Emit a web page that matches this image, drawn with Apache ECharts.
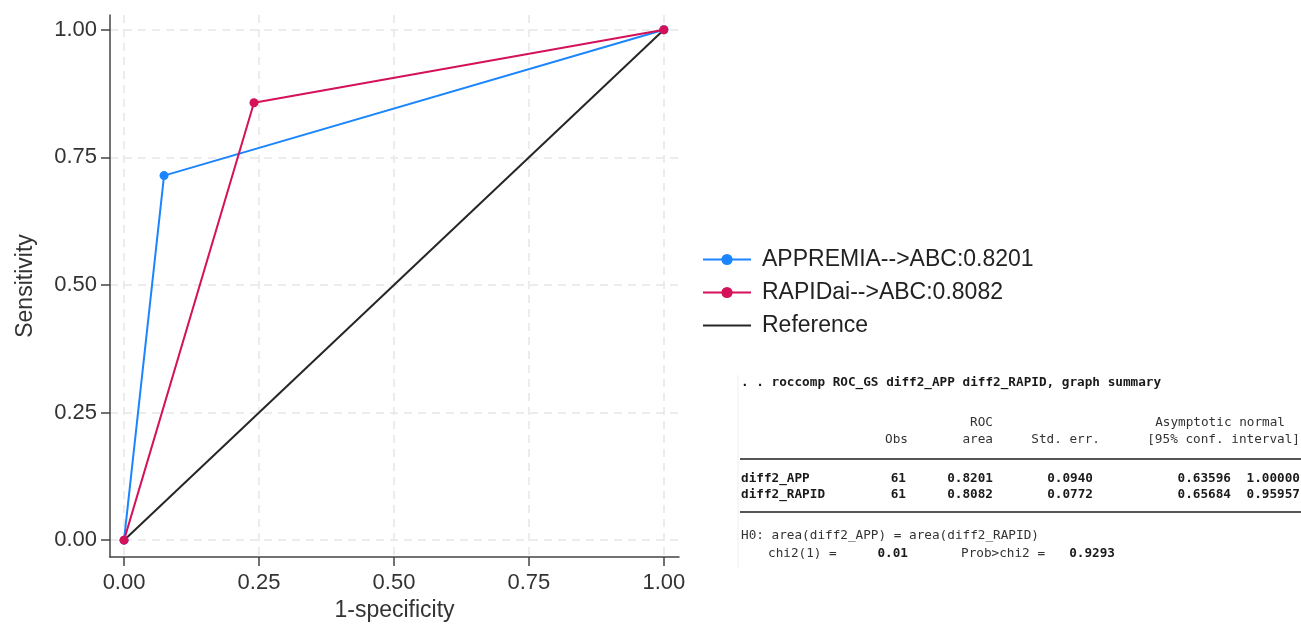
<!DOCTYPE html>
<html>
<head>
<meta charset="utf-8">
<script src="https://cdn.jsdelivr.net/npm/echarts@6/dist/echarts.min.js"></script>
<style>
html,body{margin:0;padding:0;background:#fff;}
#chart{width:1301px;height:627px;}
</style>
</head>
<body>
<div id="chart"></div>
<script>
// ---- data ----
const appX = [0, 0.0741, 1];
const appY = [0, 0.7143, 1];
const rapX = [0, 0.2407, 1];
const rapY = [0, 0.8571, 1];
const refX = [0, 1];
const refY = [0, 1];
const tickValues = [0, 0.25, 0.5, 0.75, 1];
const seriesNames = ['APPREMIA-->ABC:0.8201', 'RAPIDai-->ABC:0.8082', 'Reference'];
const xName = '1-specificity';
const yName = 'Sensitivity';

// ---- summary table text ----
const tableTitle = '. . roccomp ROC_GS diff2_APP diff2_RAPID, graph summary';
const tableHead1 = ['ROC', 'Asymptotic normal'];
const tableHead2 = ['Obs', 'area', 'Std. err.', '[95% conf. interval]'];
const tableRowNames = ['diff2_APP', 'diff2_RAPID'];
const tableRowValues = [
  ['61', '0.8201', '0.0940', '0.63596', '1.00000'],
  ['61', '0.8082', '0.0772', '0.65684', '0.95957']
];
const testLine1 = 'H0: area(diff2_APP) = area(diff2_RAPID)';
const testLabels = ['chi2(1) =', 'Prob>chi2 ='];
const testValues = ['0.01', '0.9293'];

const pair = (xs, ys) => xs.map((x, i) => [x, ys[i]]);

const mono = '"DejaVu Sans Mono", "Liberation Mono", monospace';
const txt = (text, x, y, align, bold) => ({
  type: 'text', silent: true,
  style: {
    text: text, x: x, y: y, align: align || 'left', verticalAlign: 'middle',
    font: (bold ? 'bold ' : '') + '12.7px ' + mono, fill: bold ? '#1a1a1a' : '#333'
  }
});

const graphics = [];
graphics.push({type: 'line', silent: true, shape: {x1: 738, y1: 375, x2: 738, y2: 568}, style: {stroke: '#eeeeee', lineWidth: 1}});
graphics.push(txt(tableTitle, 741, 383, 'left', true));
graphics.push(txt(tableHead1[0], 993, 423, 'right'));
graphics.push(txt(tableHead1[1], 1285, 423, 'right'));
const head2Right = [908, 993, 1100, 1300];
tableHead2.forEach((t, i) => graphics.push(txt(t, head2Right[i], 440, 'right')));
graphics.push({type: 'line', silent: true, shape: {x1: 740, y1: 459, x2: 1301, y2: 459}, style: {stroke: '#555', lineWidth: 2}});
const valRight = [906, 993, 1093, 1231, 1300];
const rowY = [479, 495];
tableRowNames.forEach((n, r) => {
  graphics.push(txt(n, 741, rowY[r], 'left', true));
  tableRowValues[r].forEach((v, i) => graphics.push(txt(v, valRight[i], rowY[r], 'right', true)));
});
graphics.push({type: 'line', silent: true, shape: {x1: 740, y1: 512, x2: 1301, y2: 512}, style: {stroke: '#555', lineWidth: 2}});
graphics.push(txt(testLine1, 741, 536, 'left'));
graphics.push(txt(testLabels[0], 768, 554, 'left'));
graphics.push(txt(testValues[0], 908, 554, 'right', true));
graphics.push(txt(testLabels[1], 961, 554, 'left'));
graphics.push(txt(testValues[1], 1115, 554, 'right', true));

const sans = '"Liberation Sans", Arial, sans-serif';
const tickFont = {fontFamily: sans, fontSize: 22, color: '#333'};
const nameFont = {fontFamily: sans, fontSize: 23, color: '#333'};
const splitStyle = {show: true, lineStyle: {color: '#e6e6e6', width: 1.5, type: [8, 6]}};

const chart = echarts.init(document.getElementById('chart'), null, {renderer: 'canvas'});
chart.setOption({
  animation: false,
  backgroundColor: '#fff',
  grid: {left: 110, right: 622, top: 15, bottom: 66},
  xAxis: {
    type: 'value', min: -0.026, max: 1.028,
    name: xName, nameLocation: 'middle', nameGap: 42,
    nameTextStyle: nameFont,
    axisLine: {show: true, onZero: false, lineStyle: {color: '#444', width: 1.5}},
    axisTick: {show: true, length: 9, customValues: tickValues, lineStyle: {color: '#444', width: 1.5}},
    axisLabel: {customValues: tickValues, margin: 15, formatter: v => v.toFixed(2), ...tickFont},
    splitLine: splitStyle
  },
  yAxis: {
    type: 'value', min: -0.033, max: 1.029,
    name: yName, nameLocation: 'middle', nameGap: 73,
    nameTextStyle: nameFont,
    axisLine: {show: true, onZero: false, lineStyle: {color: '#444', width: 1.5}},
    axisTick: {show: true, length: 9, customValues: tickValues, lineStyle: {color: '#444', width: 1.5}},
    axisLabel: {customValues: tickValues, margin: 13, formatter: v => v.toFixed(2), ...tickFont},
    splitLine: splitStyle
  },
  legend: {
    orient: 'vertical', left: 697, top: 243,
    itemWidth: 48, itemHeight: 14, itemGap: 10,
    data: [
      {name: seriesNames[0]},
      {name: seriesNames[1]},
      {name: seriesNames[2], itemStyle: {opacity: 0}}
    ],
    textStyle: {fontFamily: sans, fontSize: 23, color: '#222', lineHeight: 23, padding: [0, 0, 0, 6]}
  },
  series: [
    {
      name: seriesNames[2], type: 'line', data: pair(refX, refY),
      symbol: 'none', lineStyle: {color: '#262626', width: 2}, itemStyle: {color: '#262626'}, z: 2
    },
    {
      name: seriesNames[0], type: 'line', data: pair(appX, appY),
      symbol: 'circle', symbolSize: 9, lineStyle: {color: '#1a85ff', width: 2}, itemStyle: {color: '#1a85ff'}, z: 3
    },
    {
      name: seriesNames[1], type: 'line', data: pair(rapX, rapY),
      symbol: 'circle', symbolSize: 9, lineStyle: {color: '#d41159', width: 2}, itemStyle: {color: '#d41159'}, z: 4
    }
  ],
  graphic: graphics
});
</script>
</body>
</html>
